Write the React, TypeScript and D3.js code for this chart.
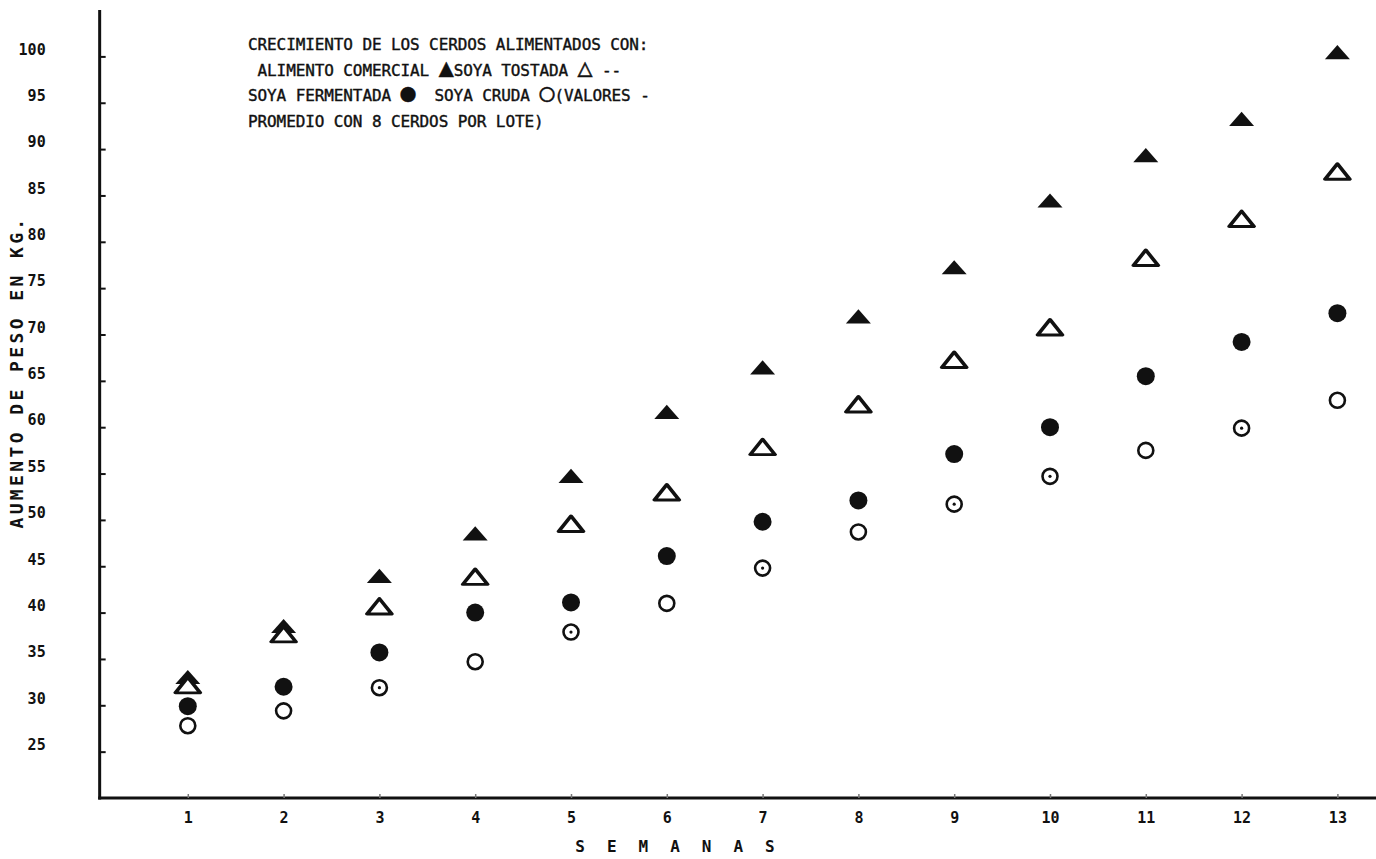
import { useEffect, useRef } from 'react'
import * as d3 from 'd3'

const weeks = [1, 2, 3, 4, 5, 6, 7, 8, 9, 10, 11, 12, 13]
const comercial = [32.8, 38.3, 43.7, 48.3, 54.5, 61.4, 66.2, 71.7, 77.0, 84.2, 89.1, 93.0, 100.2]
const tostada = [31.9, 37.4, 40.4, 43.6, 49.3, 52.7, 57.6, 62.2, 67.0, 70.5, 78.0, 82.2, 87.3]
const fermentada = [29.9, 32.0, 35.7, 40.0, 41.1, 46.1, 49.8, 52.1, 57.1, 60.0, 65.5, 69.2, 72.3]
const cruda = [27.8, 29.4, 31.9, 34.7, 37.9, 41.0, 44.8, 48.7, 51.7, 54.7, 57.5, 59.9, 62.9]
// open circles drawn with a centre dot in the original
const crudaDot = [false, false, true, false, true, false, true, false, true, true, false, true, false]
const yTicks = [25, 30, 35, 40, 45, 50, 55, 60, 65, 70, 75, 80, 85, 90, 95, 100]
const titleLines = [
  'CRECIMIENTO DE LOS CERDOS ALIMENTADOS CON:',
  ' ALIMENTO COMERCIAL ▲SOYA TOSTADA △ --',
  'SOYA FERMENTADA ●  SOYA CRUDA ○(VALORES -',
  'PROMEDIO CON 8 CERDOS POR LOTE)',
]

const W = 1376
const H = 859
const FONT = '"DejaVu Sans Mono", "Liberation Mono", monospace'

function App() {
  const ref = useRef<SVGSVGElement>(null)

  useEffect(() => {
    const svg = d3.select(ref.current)
    svg.selectAll('*').remove()

    const x = d3.scaleLinear().domain([0, 13]).range([92, 1337.4])
    const y = d3.scaleLinear().domain([20, 100]).range([798, 56.4])

    const ink = '#111'

    // axes lines
    svg.append('line')
      .attr('x1', x(0.08)).attr('x2', x(0.08))
      .attr('y1', 10).attr('y2', y(20) + 1.5)
      .attr('stroke', ink).attr('stroke-width', 3)
    svg.append('line')
      .attr('x1', x(0.08) - 1.5).attr('x2', W)
      .attr('y1', y(20)).attr('y2', y(20))
      .attr('stroke', ink).attr('stroke-width', 3)

    // y axis
    const yAxis = d3.axisLeft(y).tickValues(yTicks).tickSize(-6).tickPadding(54)
    const gy = svg.append('g')
      .attr('transform', `translate(${x(0.08)},0)`)
      .call(yAxis)
    gy.select('.domain').remove()
    gy.selectAll('.tick line').attr('stroke', ink).attr('stroke-width', 2)
    gy.selectAll('.tick text')
      .attr('fill', ink)
      .attr('dy', '-0.15em')
      .style('font-family', FONT)
      .style('font-size', '15px')
      .style('font-weight', 'bold')

    // x axis
    const xAxis = d3.axisBottom(x).tickValues(weeks).tickSize(-4).tickPadding(14)
    const gx = svg.append('g')
      .attr('transform', `translate(0,${y(20)})`)
      .call(xAxis)
    gx.select('.domain').remove()
    gx.selectAll('.tick line').attr('stroke', '#777').attr('stroke-width', 1.5)
    gx.selectAll('.tick text')
      .attr('fill', ink)
      .style('font-family', FONT)
      .style('font-size', '15px')
      .style('font-weight', 'bold')

    // axis titles
    svg.append('text')
      .attr('x', 686).attr('y', 852)
      .attr('text-anchor', 'middle')
      .attr('fill', ink)
      .style('font-family', FONT)
      .style('font-size', '16px')
      .style('font-weight', 'bold')
      .style('letter-spacing', '22px')
      .text('SEMANAS')

    svg.append('text')
      .attr('transform', 'translate(23,372) rotate(-90)')
      .attr('text-anchor', 'middle')
      .attr('fill', ink)
      .style('font-family', FONT)
      .style('font-size', '18px')
      .style('font-weight', 'bold')
      .style('letter-spacing', '3.4px')
      .text('AUMENTO DE PESO EN KG.')

    // title / legend text
    const lines = svg.append('g')
      .selectAll('text')
      .data(titleLines)
      .join('text')
      .attr('x', 248)
      .attr('y', (_, i) => 50 + i * 25.5)
      .attr('fill', ink)
      .attr('stroke', ink)
      .attr('stroke-width', 0.4)
      .attr('xml:space', 'preserve')
      .style('white-space', 'pre')
      .style('font-family', FONT)
      .style('font-size', '16px')
      .style('letter-spacing', '-0.1px')

    lines.selectAll('tspan')
      .data((d) => d.split(/([▲△●○])/).filter((s) => s.length > 0))
      .join('tspan')
      .style('font-size', (s) => (/[▲△●○]/.test(s) ? '25px' : null))
      .text((s) => s)

    const tri = d3.symbol().type(d3.symbolTriangle)

    // filled triangles
    svg.append('g')
      .selectAll('path')
      .data(comercial)
      .join('path')
      .attr('transform', (d, i) => `translate(${x(weeks[i])},${y(d)}) scale(1.3,0.85)`)
      .attr('d', tri.size(160)())
      .attr('fill', ink)

    // open triangles
    svg.append('g')
      .selectAll('path')
      .data(tostada)
      .join('path')
      .attr('transform', (d, i) => `translate(${x(weeks[i])},${y(d)}) scale(1.25,0.9)`)
      .attr('d', tri.size(170)())
      .attr('fill', 'white')
      .attr('stroke', ink)
      .attr('stroke-width', 3.2)
      .attr('stroke-linejoin', 'round')

    // filled circles
    svg.append('g')
      .selectAll('circle')
      .data(fermentada)
      .join('circle')
      .attr('cx', (_, i) => x(weeks[i]))
      .attr('cy', (d) => y(d))
      .attr('r', 9)
      .attr('fill', ink)

    // open circles
    const gc = svg.append('g')
    gc.selectAll('circle.ring')
      .data(cruda)
      .join('circle')
      .attr('class', 'ring')
      .attr('cx', (_, i) => x(weeks[i]))
      .attr('cy', (d) => y(d))
      .attr('r', 7.5)
      .attr('fill', 'white')
      .attr('stroke', ink)
      .attr('stroke-width', 2.6)
    gc.selectAll('circle.dot')
      .data(cruda.map((v, i) => ({ v, i })).filter((d) => crudaDot[d.i]))
      .join('circle')
      .attr('class', 'dot')
      .attr('cx', (d) => x(weeks[d.i]))
      .attr('cy', (d) => y(d.v))
      .attr('r', 1.6)
      .attr('fill', ink)
  }, [])

  return (
    <svg
      ref={ref}
      width={W}
      height={H}
      style={{ position: 'absolute', left: 0, top: 0, background: 'white' }}
    />
  )
}

export default App
